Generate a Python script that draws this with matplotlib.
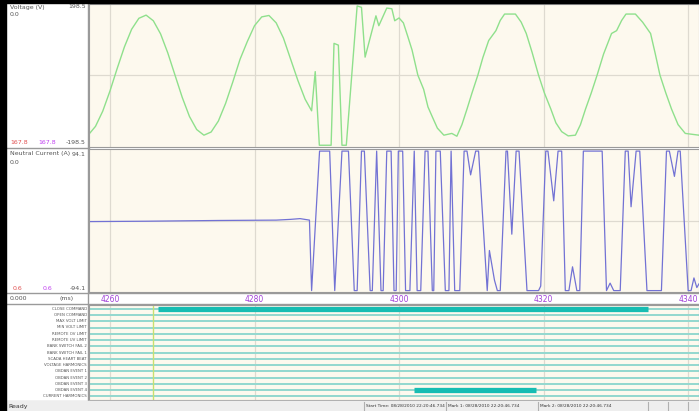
import matplotlib.pyplot as plt
from matplotlib.patches import Rectangle
from matplotlib.lines import Line2D

W, H = 699, 411

# ---- data ----
volt_t = [4257.1, 4258, 4259, 4260, 4261, 4262, 4263, 4264, 4265, 4266, 4267, 4268,
          4269, 4270, 4271, 4272, 4273, 4274, 4275, 4276, 4277, 4278, 4279, 4280,
          4281, 4282, 4283, 4284, 4285, 4286, 4287, 4287.9, 4288.4, 4288.97, 4290.6,
          4291.0, 4291.6, 4292.1, 4292.7, 4294.2, 4294.8, 4295.3, 4296.8, 4297.2,
          4298.3, 4299.0, 4299.4, 4300.0, 4300.6, 4301.2, 4301.8, 4302.6, 4303.4,
          4304.0, 4304.6, 4305.3, 4306.2, 4307.3, 4308.0, 4308.7, 4309.4, 4310.1,
          4310.9, 4311.6, 4312.4, 4313.4, 4314.0, 4314.6, 4316.1, 4316.9, 4317.6,
          4318.4, 4319.3, 4320.1, 4321.0, 4321.7, 4322.5, 4323.4, 4324.4, 4325.1,
          4325.8, 4326.6, 4327.4, 4328.3, 4329.4, 4330.1, 4330.8, 4331.4, 4332.7,
          4333.7, 4334.8, 4335.4, 4336.1, 4336.9, 4337.7, 4338.6, 4339.6, 4341.5]
volt_v = [-167, -145, -102, -45, 19, 80, 130, 161, 170, 154, 117, 63,
          0, -63, -117, -154, -170, -161, -130, -80, -19, 45, 95, 140,
          165, 169, 148, 105, 45, -15, -68, -101, 10, -198.5, -198.5,
          90, 85, -198.5, -198.5, 196, 192, 51, 168, 140,
          190, 188, 154, 162, 148, 110, 71, 0, -40,
          -90, -118, -150, -170, -165, -173, -140, -96, -50,
          0, 50, 98, 126, 155, 173, 173, 150, 118,
          65, 0, -50, -96, -135, -160, -172, -170, -140,
          -96, -50, 0, 60, 118, 126, 155, 173, 173,
          150, 118, 65, 0, -50, -96, -140, -165, -170]

curr_t = [4257.1, 4265, 4275, 4283, 4285, 4286.3, 4287.6, 4287.9, 4289.0, 4290.4,
          4291.1, 4292.1, 4293.0, 4293.8, 4294.2, 4294.8, 4295.2, 4296.0, 4296.3,
          4296.9, 4297.5, 4297.8, 4298.3, 4298.9, 4299.3, 4299.6, 4299.9, 4300.5,
          4300.9, 4301.5, 4302.1, 4302.5, 4303.0, 4303.6, 4304.0, 4304.6, 4304.8,
          4305.1, 4305.7, 4306.4, 4306.9, 4307.2, 4307.7, 4308.4, 4309.0, 4309.4,
          4309.9, 4310.6, 4311.0, 4312.2, 4312.5, 4313.2, 4313.6, 4314.0, 4314.8,
          4315.0, 4315.6, 4316.2, 4316.6, 4317.7, 4319.3, 4319.6, 4320.3, 4320.6,
          4321.4, 4322.0, 4322.5, 4323.0, 4323.5, 4324.0, 4324.6, 4325.0, 4325.5,
          4328.1, 4328.7, 4329.2, 4329.7, 4330.6, 4331.3, 4331.7, 4332.1, 4332.8,
          4333.3, 4334.3, 4336.3, 4337.0, 4337.4, 4338.1, 4338.6, 4338.9, 4340.0,
          4340.4, 4340.8, 4341.2, 4341.5]
curr_v = [-1, -0.5, 0.5, 1, 2, 3, 1, -94.1, 94.1, 94.1,
          -94.1, 94.1, 94.1, -94.1, -94.1, 94.1, 94.1, -94.1, -94.1,
          94.1, -94.1, -94.1, 94.1, 94.1, -94.1, -94.1, 94.1, 94.1,
          -94.1, -94.1, 94.1, -94.1, -94.1, 94.1, 94.1, -94.1, -94.1,
          94.1, 94.1, -94.1, -94.1, 94.1, -94.1, -94.1, 94.1, 94.1,
          62, 94.1, 94.1, -94.1, -40, -80, -94.1, -94.1, 94.1,
          94.1, -18, 94.1, 94.1, -94.1, -94.1, -88, 94.1, 94.1,
          27, 94.1, 94.1, -94.1, -94.1, -62, -94.1, -94.1, 94.1,
          94.1, -94.1, -84, -94.1, -94.1, 94.1, 94.1, 19, 94.1,
          94.1, -94.1, -94.1, 94.1, 94.1, 60, 94.1, 94.1, -94.1,
          -94.1, -77, -90, -85]

channels = ["CLOSE COMMAND", "OPEN COMMAND", "MAX VOLT LIMIT", "MIN VOLT LIMIT",
            "REMOTE OV LIMIT", "REMOTE UV LIMIT", "BANK SWITCH FAIL 2",
            "BANK SWITCH FAIL 1", "SCADA HEART BEAT", "VOLTAGE HARMONICS",
            "OBDAN EVENT 1", "OBDAN EVENT 2", "OBDAN EVENT 3", "OBDAN EVENT 4",
            "CURRENT HARMONICS"]
high_channel = ["CLOSE COMMAND", "OBDAN EVENT 4"]
high_start = [4266.6, 4302.1]
high_end = [4334.5, 4318.9]

ticks = [4260, 4280, 4300, 4320, 4340]
xmin, xmax = 4257.1, 4341.5
vmax = 198.5
imax = 94.1

cream = "#fdf9ee"
grid = "#dedad0"
frame = "#9a9a9a"


def px_axes(x0, y0, x1, y1):
    return fig.add_axes([x0 / W, 1 - y1 / H, (x1 - x0) / W, (y1 - y0) / H])


def ftext(x, y, s, **kw):
    kw.setdefault("zorder", 8)
    fig.text(x / W, 1 - y / H, s, **kw)


def hline(y, x0=7, x1=W, color=frame, lw=1.0):
    fig.add_artist(Line2D([x0 / W, x1 / W], [1 - y / H, 1 - y / H],
                          transform=fig.transFigure, color=color, lw=lw, zorder=1))


def style(ax):
    ax.set_facecolor(cream)
    ax.set_xlim(xmin, xmax)
    for s in ax.spines.values():
        s.set_color(frame)
        s.set_linewidth(0.8)
    ax.tick_params(length=0, labelleft=False, labelbottom=False)
    ax.set_yticks([])
    for t in ticks:
        ax.axvline(t, color=grid, lw=0.9, zorder=0)


fig = plt.figure(figsize=(W / 100, H / 100), dpi=100)
fig.patch.set_facecolor("white")

# voltage panel
ax_v = px_axes(89, 4, 699, 147)
style(ax_v)
ax_v.set_ylim(-vmax * 1.025, vmax * 1.015)
ax_v.axhline(0, color=grid, lw=0.9, zorder=0)
ax_v.plot(volt_t, volt_v, color="#8fe08c", lw=1.0)

# current panel
ax_i = px_axes(89, 149, 699, 292)
style(ax_i)
ax_i.set_ylim(-imax * 1.02, imax * 1.03)
ax_i.axhline(0, color=grid, lw=0.9, zorder=0)
ax_i.plot(curr_t, curr_v, color="#7272d4", lw=0.9)
ax_i.set_xticks(ticks)
ax_i.set_xticklabels([str(t) for t in ticks])
ax_i.tick_params(labelbottom=True, labelsize=5.5, labelcolor="#a040d8", pad=2)

# digital panel
ax_d = px_axes(89, 305, 699, 400)
style(ax_d)
ax_d.set_ylim(len(channels) - 0.4, -0.6)
for k, name in enumerate(channels):
    ax_d.axhline(k, color="#93d8cf", lw=1.4, zorder=1)
for name, t0, t1 in zip(high_channel, high_start, high_end):
    k = channels.index(name)
    ax_d.plot([t0, t1], [k, k], color="#17bdb3", lw=3.8, solid_capstyle="butt", zorder=2)
ax_d.axvline(4266.0, color="#c8e070", lw=1.0, zorder=1)

# window chrome
fig.add_artist(Rectangle((0, 0), 6 / W, 1, transform=fig.transFigure,
                         color="black", zorder=5))
fig.add_artist(Rectangle((0, 1 - 3 / H), 1, 3 / H, transform=fig.transFigure,
                         color="black", zorder=5))
fig.add_artist(Rectangle((0, 0), 1, 10 / H, transform=fig.transFigure,
                         color="#eeeeee", zorder=4))
hline(148, x0=7, x1=89)
hline(292.5)
hline(304)
hline(400.5, x0=0, color="#c8c8c8")
fig.add_artist(Line2D([88 / W, 88 / W], [1 - 400 / H, 1 - 3 / H],
                      transform=fig.transFigure, color=frame, lw=1.0))

# left labels
small = dict(fontsize=4.5, color="#555555", va="center")
ftext(10, 7, "Voltage (V)", **small)
ftext(10, 14, "0.0", **small)
ftext(86, 7, "198.5", ha="right", **small)
ftext(86, 142, "-198.5", ha="right", **small)
ftext(10, 142, "167.8", fontsize=4.5, color="#e05050", va="center")
ftext(38, 142, "167.8", fontsize=4.5, color="#c040f0", va="center")
ftext(10, 154, "Neutral Current (A)", **small)
ftext(10, 162, "0.0", **small)
ftext(86, 154, "94.1", ha="right", **small)
ftext(86, 288, "-94.1", ha="right", **small)
ftext(13, 288, "0.6", fontsize=4.5, color="#e05050", va="center")
ftext(43, 288, "0.6", fontsize=4.5, color="#c040f0", va="center")
ftext(10, 298, "0.000", **small)
ftext(60, 298, "(ms)", **small)

for k, name in enumerate(channels):
    y = 305 + (k + 0.6) * 95 / (len(channels) + 0.2)
    ftext(87, y, name, fontsize=2.8, color="#555555", ha="right", va="center")

# status bar
ftext(8, 406, "Ready", fontsize=4.5, color="#333333", va="center")
status = ["Start Time: 08/28/2010 22:20:46.734",
          "Mark 1: 08/28/2010 22:20:46.734",
          "Mark 2: 08/28/2010 22:20:46.734"]
for xs, s in zip([366, 448, 540], status):
    ftext(xs, 406, s, fontsize=3.1, color="#333333", va="center")
for xb in [364, 446, 538, 648, 668, 688]:
    fig.add_artist(Line2D([xb / W, xb / W], [1 / H, 9 / H],
                          transform=fig.transFigure, color="#b0b0b0", lw=0.8,
                          zorder=6))

fig.savefig("out.png", dpi=100)
